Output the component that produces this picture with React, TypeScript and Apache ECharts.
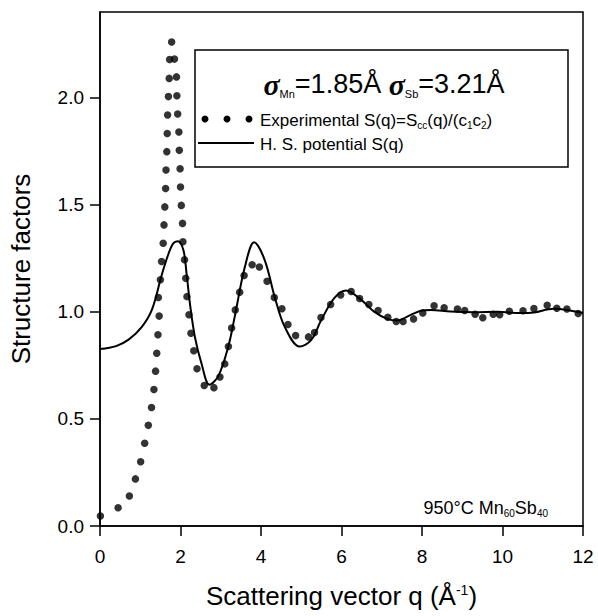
import React, { useEffect, useRef } from 'react';
import * as echarts from 'echarts';

// Experimental S(q) = Scc(q)/(c1c2)
const expQ = [
  0.01, 0.45, 0.73, 0.88, 1.01, 1.11, 1.2, 1.28, 1.34, 1.38, 1.41, 1.44, 1.47,
  1.45, 1.5, 1.53, 1.57, 1.59, 1.61, 1.63, 1.64, 1.66, 1.67, 1.68, 1.7, 1.72, 1.73,
  1.78, 1.85, 1.9, 1.91, 1.93, 1.96, 1.97, 1.99, 2.0, 2.02, 2.05, 2.06, 2.1, 2.13,
  2.16, 2.21, 2.26, 2.33, 2.41, 2.59, 2.83, 2.98, 3.1, 3.19, 3.27, 3.36, 3.47, 3.58,
  3.78, 3.96, 4.15, 4.33, 4.52, 4.67, 4.86, 5.18, 5.33, 5.49, 5.73, 5.98, 6.24, 6.45,
  6.68, 6.91, 7.15, 7.36, 7.53, 7.79, 8.02, 8.3, 8.55, 8.88, 9.06, 9.32, 9.51, 9.77,
  9.93, 10.17, 10.51, 10.78, 11.11, 11.35, 11.6, 11.88,
];
const expS = [
  0.047, 0.085, 0.14, 0.22, 0.3, 0.386, 0.47, 0.553, 0.637, 0.723, 0.807, 0.893, 0.98,
  1.067, 1.15, 1.235, 1.32, 1.406, 1.49, 1.576, 1.662, 1.748, 1.833, 1.919, 2.005, 2.09, 2.178,
  2.26, 2.18, 2.097, 2.009, 1.924, 1.84, 1.754, 1.668, 1.583, 1.497, 1.413, 1.327, 1.243, 1.157,
  1.071, 0.986, 0.9, 0.818, 0.734, 0.656, 0.646, 0.696, 0.757, 0.838, 0.924, 1.009, 1.092, 1.17,
  1.22, 1.209, 1.143, 1.067, 1.014, 0.941, 0.889, 0.883, 0.903, 0.973, 1.034, 1.079, 1.095, 1.062,
  1.034, 1.006, 0.975, 0.955, 0.955, 0.967, 0.995, 1.028, 1.019, 1.013, 1.006, 0.989, 0.972, 0.989,
  0.986, 1.003, 1.005, 1.015, 1.031, 1.017, 1.013, 0.992,
];

// Hard-sphere potential S(q)
const hsQ = [
  0, 0.4, 0.71, 1.04, 1.29, 1.53, 1.7, 1.82, 1.93, 2.07, 2.15, 2.24, 2.36, 2.52, 2.72,
  2.94, 3.19, 3.35, 3.6, 3.83, 4.09, 4.34, 4.59, 4.96, 5.25, 5.5, 5.82, 6.11, 6.49, 6.81,
  7.15, 7.39, 7.72, 8.0, 8.22, 8.71, 9.29, 9.87, 10.45, 10.78, 11.27, 11.6, 12,
];
const hsS = [
  0.826, 0.84, 0.87, 0.93, 1.01, 1.17, 1.27, 1.32, 1.33, 1.29, 1.18, 1.03, 0.88, 0.76, 0.66,
  0.7, 0.84, 0.98, 1.21, 1.325, 1.243, 1.07, 0.93, 0.838, 0.869, 0.963, 1.064, 1.1, 1.056, 1.001,
  0.966, 0.96, 0.986, 1.006, 1.009, 1.001, 0.998, 1.0, 0.994, 0.997, 1.014, 1.009, 0.995,
];

const yTicks = [0, 0.5, 1.0, 1.5, 2.0];

const FONT = '"Liberation Sans", Arial, Helvetica, sans-serif';

export default function App() {
  const ref = useRef<HTMLDivElement>(null);

  useEffect(() => {
    if (!ref.current) return;
    const chart = echarts.init(ref.current, null, { renderer: 'svg' });
    const expData = expQ.map((q, i) => [q, expS[i]]);
    const hsData = hsQ.map((q, i) => [q, hsS[i]]);

    const option: any = {
      animation: false,
      backgroundColor: '#ffffff',
      textStyle: { fontFamily: FONT, color: '#000' },
      grid: {
        left: 98,
        right: 15,
        top: 12,
        bottom: 90,
        show: true,
        borderColor: '#000',
        borderWidth: 1.5,
        backgroundColor: 'transparent',
      },
      xAxis: {
        type: 'value',
        min: 0,
        max: 12,
        interval: 2,
        name: 'Scattering vector q (Å{sup|-1})',
        nameLocation: 'middle',
        nameGap: 57,
        nameTextStyle: {
          fontFamily: FONT,
          fontSize: 26,
          color: '#000',
          rich: {
            sup: { fontSize: 14, verticalAlign: 'top', fontFamily: FONT, color: '#000' },
          },
        },
        axisLine: { lineStyle: { color: '#000', width: 1.5 } },
        axisTick: { inside: false, length: 10, lineStyle: { color: '#000', width: 1.5 } },
        axisLabel: { fontFamily: FONT, fontSize: 19, color: '#000', margin: 21 },
        splitLine: { show: false },
      },
      yAxis: {
        type: 'value',
        min: 0,
        max: 2.4,
        interval: 0.5,
        name: 'Structure factors',
        nameLocation: 'middle',
        nameGap: 66,
        nameTextStyle: { fontFamily: FONT, fontSize: 26, color: '#000' },
        axisLine: { lineStyle: { color: '#000', width: 1.5 } },
        axisTick: {
          inside: false,
          length: 10,
          customValues: yTicks,
          lineStyle: { color: '#000', width: 1.5 },
        },
        axisLabel: {
          fontFamily: FONT,
          fontSize: 19,
          color: '#000',
          margin: 16,
          customValues: yTicks,
          formatter: (v: number) => v.toFixed(1),
        },
        splitLine: { show: false },
      },
      series: [
        {
          name: 'H. S. potential S(q)',
          type: 'line',
          data: hsData,
          smooth: 0.35,
          showSymbol: false,
          symbol: 'none',
          lineStyle: { color: '#000', width: 2 },
          z: 3,
        },
        {
          name: 'Experimental',
          type: 'scatter',
          data: expData,
          symbol: 'circle',
          symbolSize: 7.5,
          itemStyle: { color: '#000' },
          z: 4,
        },
      ],
      graphic: [
        {
          type: 'group',
          z: 100,
          children: [
            {
              type: 'rect',
              shape: { x: 195, y: 50, width: 373, height: 117 },
              style: { fill: '#fff', stroke: '#000', lineWidth: 1.5 },
            },
            {
              type: 'text',
              x: 384,
              y: 84,
              style: {
                text: '{s|σ}{sub|Mn}{n|=1.85Å }{s|σ}{sub|Sb}{n|=3.21Å}',
                align: 'center',
                verticalAlign: 'middle',
                fill: '#000',
                rich: {
                  s: { fontFamily: '"Liberation Serif", "DejaVu Serif", serif', fontStyle: 'italic', fontWeight: 'bold', fontSize: 30, fill: '#000' },
                  sub: { fontFamily: FONT, fontSize: 11, verticalAlign: 'bottom', fill: '#000', lineHeight: 13 },
                  n: { fontFamily: FONT, fontSize: 27, fill: '#000' },
                },
              },
            },
            { type: 'circle', shape: { cx: 205, cy: 119, r: 3.5 }, style: { fill: '#000' } },
            { type: 'circle', shape: { cx: 227, cy: 119, r: 3.5 }, style: { fill: '#000' } },
            { type: 'circle', shape: { cx: 249, cy: 119, r: 3.5 }, style: { fill: '#000' } },
            {
              type: 'text',
              x: 260,
              y: 120,
              style: {
                text: '{n|Experimental S(q)=S}{sub|cc}{n|(q)/(c}{sub|1}{n|c}{sub|2}{n|)}',
                align: 'left',
                verticalAlign: 'middle',
                fill: '#000',
                rich: {
                  n: { fontFamily: FONT, fontSize: 17, fill: '#000', lineHeight: 20 },
                  sub: { fontFamily: FONT, fontSize: 10, verticalAlign: 'bottom', fill: '#000', lineHeight: 12 },
                },
              },
            },
            {
              type: 'line',
              shape: { x1: 198, y1: 143, x2: 254, y2: 143 },
              style: { stroke: '#000', lineWidth: 2 },
            },
            {
              type: 'text',
              x: 260,
              y: 144,
              style: {
                text: 'H. S. potential S(q)',
                align: 'left',
                verticalAlign: 'middle',
                fill: '#000',
                font: `17px ${FONT}`,
              },
            },
          ],
        },
        {
          type: 'text',
          z: 100,
          x: 548,
          y: 508,
          style: {
            text: '{n|950°C Mn}{sub|60}{n|Sb}{sub|40}',
            align: 'right',
            verticalAlign: 'middle',
            fill: '#000',
            rich: {
              n: { fontFamily: FONT, fontSize: 18, fill: '#000', lineHeight: 20 },
              sub: { fontFamily: FONT, fontSize: 10, verticalAlign: 'bottom', fill: '#000', lineHeight: 12 },
            },
          },
        },
      ],
    };
    chart.setOption(option);
    return () => chart.dispose();
  }, []);

  return (
    <div
      ref={ref}
      style={{ position: 'fixed', left: 0, top: 0, width: 598, height: 616, background: '#fff' }}
    />
  );
}
